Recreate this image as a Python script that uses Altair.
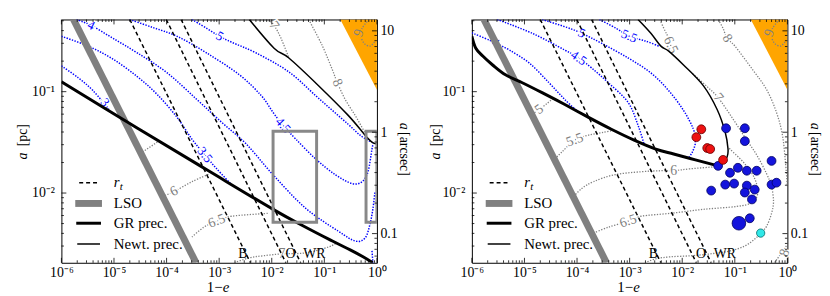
import altair as alt
import pandas as pd

# ---------------- geometry of the axes (log10 units) ----------------
LOG_X_MIN, LOG_X_MAX = -6.0, 0.0          # 1-e
LOG_A_MIN, LOG_A_MAX = -2.688, -0.288     # a [pc]
PC_PER_ARCSEC = 0.0398
W, H = 319, 246

SERIF = "Liberation Serif"
BLUE = "#0000ff"
GRAY = "#808080"
ORANGE = "#ffa500"

# ---------------- data: (log10(1-e), log10(a/pc)) ----------------
LSO = [(-5.77, -0.288), (-3.44, -2.688)]
RT_B = [(-4.70, -0.288), (-2.405, -2.688)]
RT_O = [(-4.006, -0.288), (-1.731, -2.688)]
RT_WR = [(-3.724, -0.288), (-1.449, -2.688)]
STAR_LABELS = [("B", -2.55, -2.60), ("O", -1.645, -2.60), ("WR", -1.19, -2.60)]
ORANGE_X = [-0.696, 0.0]
ORANGE_LO = [-0.288, -0.980]
G9 = [(-0.151, -0.288), (-0.283, -0.376), (-0.302, -0.454), (-0.245, -0.522),
      (-0.132, -0.551), (-0.037, -0.502)]

# left panel
L_GR = [(-6.0, -0.902), (-4.552, -1.361), (-3.235, -1.771), (-1.975, -2.161),
        (-1.354, -2.337), (-0.847, -2.473), (-0.508, -2.561), (-0.264, -2.629), (-0.08, -2.688)]
L_NEWT = [(-2.427, -0.288), (-1.956, -0.571), (-1.674, -0.668), (-1.110, -0.941),
          (-0.546, -1.234), (-0.226, -1.429), (-0.094, -1.498), (0.0, -1.517)]
L_B3 = [(-6.0, -0.746), (-5.68, -0.863), (-5.398, -0.990), (-5.097, -1.176)]
L_B35 = [(-6.0, -0.454), (-5.492, -0.551), (-5.022, -0.678), (-4.552, -0.854), (-4.176, -1.029),
         (-3.800, -1.254), (-3.518, -1.468), (-3.273, -1.624), (-3.047, -1.761), (-2.765, -1.917)]
L_B35B = [(-0.094, -2.571), (-0.075, -2.688)]
L_B4 = [(-5.718, -0.288), (-5.436, -0.346), (-5.022, -0.473), (-4.552, -0.619), (-3.988, -0.815),
        (-3.423, -1.078), (-2.953, -1.302), (-2.484, -1.517), (-1.975, -1.820), (-1.354, -2.151),
        (-0.734, -2.376), (-0.414, -2.473), (-0.226, -2.444), (-0.132, -2.307), (-0.075, -2.151),
        (-0.037, -1.985)]
L_B45 = [(-4.702, -0.288), (-4.270, -0.366), (-3.800, -0.454), (-3.235, -0.619), (-2.615, -0.834),
         (-2.200, -1.039), (-1.975, -1.205), (-1.787, -1.332), (-1.543, -1.468), (-1.166, -1.663),
         (-0.790, -1.820), (-0.471, -1.907), (-0.283, -1.888), (-0.170, -1.790), (-0.094, -1.566),
         (-0.07, -1.51)]
L_B5 = [(-3.518, -0.288), (-3.235, -0.376), (-2.991, -0.454), (-2.765, -0.512), (-2.295, -0.619),
        (-1.674, -0.805), (-1.166, -1.039), (-0.847, -1.185), (-0.546, -1.322), (-0.320, -1.429),
        (-0.10, -1.50)]
L_BLUE_LABELS = [("3", -5.172, -1.107, 50), ("3.5", -3.273, -1.624, 52), ("4", -5.436, -0.346, 27),
                 ("4.5", -1.787, -1.332, 48), ("5", -2.991, -0.454, 28)]
L_G55 = [(-4.458, -1.595), (-4.119, -1.478)]
L_G6 = [(-4.082, -2.034), (-3.856, -1.985), (-3.518, -1.888), (-3.179, -1.810)]
L_G65 = [(-3.518, -2.434), (-3.292, -2.337), (-3.047, -2.278), (-2.765, -2.229), (-2.050, -2.200)]
L_G7LO = [(-2.709, -2.688), (-2.427, -2.639), (-2.163, -2.619), (-1.806, -2.600), (-1.354, -2.590),
          (-0.918, -2.532), (-0.77, -2.49)]
L_G7UP = [(-2.069, -0.288), (-1.956, -0.346), (-1.824, -0.473), (-1.674, -0.668)]
L_G8 = [(-1.298, -0.288), (-1.035, -0.551), (-0.847, -0.785), (-0.753, -0.912), (-0.602, -1.078),
        (-0.414, -1.234), (-0.264, -1.371), (-0.226, -1.410)]
L_GRAY_LABELS = [("6", -3.856, -1.985, 333), ("6.5", -3.047, -2.278, 340), ("7", -1.806, -2.600, 0),
                 ("7", -1.956, -0.346, 56), ("8", -0.753, -0.912, 66)]
L_RECTS = [(-1.975, -1.147, -1.390, -2.288), (-0.207, 0.0, -1.390, -2.288)]

# right panel
R_GR = [(-6.0, -0.454), (-5.925, -0.571), (-5.793, -0.649), (-5.605, -0.737), (-5.361, -0.834),
        (-5.041, -0.912), (-4.665, -1.010), (-4.232, -1.127), (-3.781, -1.254), (-3.348, -1.371),
        (-2.915, -1.478), (-2.502, -1.566), (-2.163, -1.615), (-1.749, -1.673), (-1.317, -1.732)]
R_NEWT = [(-2.840, -0.288), (-2.596, -0.424), (-2.405, -0.551), (-2.257, -0.600), (-1.975, -0.737),
          (-1.599, -0.941), (-1.336, -1.176), (-1.182, -1.400), (-1.129, -1.566), (-1.147, -1.644),
          (-1.241, -1.712), (-1.317, -1.732)]
R_B4 = [(-6.0, -0.42), (-5.661, -0.493), (-5.549, -0.522), (-5.285, -0.590), (-4.909, -0.717),
        (-4.533, -0.912), (-4.232, -1.078), (-3.969, -1.205)]
R_B45 = [(-5.52, -0.288), (-4.853, -0.424), (-4.232, -0.590), (-3.969, -0.668), (-3.724, -0.766),
         (-3.404, -0.912), (-3.028, -1.107), (-2.840, -1.332), (-2.73, -1.51)]
R_B5 = [(-4.665, -0.288), (-4.195, -0.366), (-3.912, -0.424), (-3.536, -0.522), (-3.028, -0.668),
        (-2.596, -0.815), (-2.257, -0.990), (-1.975, -1.185), (-1.787, -1.371), (-1.749, -1.498),
        (-1.806, -1.595), (-1.881, -1.654)]
R_B55 = [(-3.574, -0.288), (-3.254, -0.376), (-3.009, -0.454), (-2.690, -0.502), (-2.445, -0.551)]
R_BLUE_LABELS = [("4", -5.549, -0.522, 27), ("4.5", -3.969, -0.668, 34), ("5", -3.912, -0.424, 25),
                 ("5.5", -3.009, -0.454, 23)]
R_G5 = [(-4.853, -1.224), (-4.721, -1.176), (-4.571, -1.117), (-4.458, -1.068)]
R_G55 = [(-4.420, -1.663), (-4.288, -1.595), (-4.044, -1.478), (-3.781, -1.429), (-3.480, -1.400),
         (-3.292, -1.380)]
R_G6 = [(-4.063, -2.034), (-3.912, -1.956), (-3.687, -1.888), (-3.292, -1.820), (-2.784, -1.790),
        (-2.405, -1.780), (-2.163, -1.780), (-1.844, -1.761), (-1.373, -1.741)]
R_G65 = [(-3.687, -2.395), (-3.404, -2.337), (-3.028, -2.278), (-2.784, -2.229), (-2.220, -2.200),
         (-1.599, -2.161), (-0.960, -2.132), (-0.677, -2.093), (-0.565, -2.005), (-0.621, -1.858),
         (-0.809, -1.712), (-1.035, -1.595), (-1.110, -1.556)]
R_G65UP = [(-2.427, -0.288), (-2.332, -0.395), (-2.276, -0.454), (-2.220, -0.541), (-2.163, -0.649)]
R_G7 = [(-2.709, -2.688), (-2.502, -2.649), (-2.220, -2.629), (-1.844, -2.619), (-1.468, -2.600),
        (-1.091, -2.571), (-0.809, -2.522), (-0.621, -2.454), (-0.508, -2.395), (-0.395, -2.327),
        (-0.301, -2.200), (-0.264, -2.083), (-0.301, -1.937), (-0.395, -1.810), (-0.584, -1.624),
        (-0.809, -1.449), (-1.054, -1.254), (-1.317, -1.059), (-1.505, -0.961), (-1.712, -0.863),
        (-1.806, -0.824)]
R_G8 = [(-1.317, -0.288), (-1.223, -0.376), (-1.147, -0.473), (-0.997, -0.551), (-0.658, -0.785),
        (-0.395, -0.980), (-0.207, -1.205), (-0.094, -1.429), (-0.037, -1.693), (0.0, -1.937)]
R_G8LO = [(-0.245, -2.688), (-0.019, -2.522)]
R_GRAY_LABELS = [("5", -4.721, -1.176, 324), ("5.5", -4.044, -1.478, 340), ("6", -2.163, -1.780, 0),
                 ("6.5", -3.028, -2.278, 342), ("6.5", -2.220, -0.541, 65), ("7", -1.317, -1.059, 52),
                 ("8", -1.147, -0.473, 58), ("8", -0.05, -2.59, 290)]
NINE_LABEL = [("9", -0.34, -0.42, 290)]

RED_X = [-1.637, -1.731, -1.524, -1.468, -1.223]
RED_A = [-1.371, -1.449, -1.556, -1.566, -1.673]
BLUE_X = [-1.166, -0.809, -0.809, -0.301, -1.317, -1.091, -0.941, -0.771, -0.584, -1.182,
          -1.013, -0.771, -0.621, -0.809, -1.449, -0.674, -0.301, -0.207, -0.715]
BLUE_A = [-1.361, -1.361, -1.488, -1.683, -1.732, -1.800, -1.751, -1.780, -1.780, -1.917,
          -1.907, -1.927, -1.966, -1.995, -1.976, -2.063, -1.917, -1.898, -2.249]
BIG_X, BIG_A = [-0.922], [-2.298]
CYAN_X, CYAN_A = [-0.508], [-2.395]

# ---------------- scales / axes ----------------
A_MIN, A_MAX = 10 ** LOG_A_MIN, 10 ** LOG_A_MAX
S_MIN, S_MAX = A_MIN / PC_PER_ARCSEC, A_MAX / PC_PER_ARCSEC
X_MAJOR = [10.0 ** p for p in range(-6, 1)]
X_MINOR = [k * 10.0 ** p for p in range(-6, 0) for k in range(2, 10)]
A_MAJOR = [0.01, 0.1]
A_MINOR = [k * 10.0 ** p for p in (-3, -2, -1) for k in range(2, 10) if A_MIN < k * 10.0 ** p < A_MAX]
S_MAJOR = [0.1, 1.0, 10.0]
S_MINOR = [k * 10.0 ** p for p in (-2, -1, 0, 1) for k in range(2, 10) if S_MIN < k * 10.0 ** p < S_MAX]

XS = alt.Scale(type="log", domain=[10 ** LOG_X_MIN, 10 ** LOG_X_MAX], nice=False)
YS = alt.Scale(type="log", domain=[A_MIN, A_MAX], nice=False)
SS = alt.Scale(type="log", domain=[S_MIN, S_MAX], nice=False)

XLAB = ("['10\u207b\u2076','10\u207b\u2075','10\u207b\u2074','10\u207b\u00b3','10\u207b\u00b2',"
        "'10\u207b\u00b9','10\u2070'][round(log(datum.value)/LN10)+6]")
XAX = alt.Axis(values=X_MAJOR, labelExpr=XLAB, ticks=False, domain=False, grid=False, title=None,
               labelFont=SERIF, labelFontSize=14, labelPadding=3, labelColor="black", labelFlush=False)
YAX = alt.Axis(values=A_MAJOR, labelExpr="datum.value < 0.05 ? '10\u207b\u00b2' : '10\u207b\u00b9'",
               ticks=False, domain=False, grid=False, title=None, labelFont=SERIF, labelFontSize=14,
               labelPadding=7, labelColor="black", labelFlush=False)
SAX = alt.Axis(orient="right", values=S_MAJOR,
               labelExpr="datum.value < 0.5 ? '0.1' : (datum.value < 5 ? '1' : '10')",
               ticks=False, domain=False, grid=False, title=None, labelFont=SERIF, labelFontSize=14,
               labelPadding=3, labelColor="black", labelFlush=False)

ONE = pd.DataFrame({"k": [0]})


def XY():
    return {"x": alt.X("x:Q", scale=XS, axis=XAX), "y": alt.Y("a:Q", scale=YS, axis=YAX)}


def curves_df(curves):
    rows = []
    for name, pts in curves.items():
        for i, (lx, la) in enumerate(pts):
            rows.append({"curve": name, "i": i, "x": 10.0 ** lx, "a": 10.0 ** la})
    return pd.DataFrame(rows)


def line_layer(curves, color, width, dash=None, interp="cardinal"):
    kw = dict(color=color, strokeWidth=width, clip=True, interpolate=interp)
    if dash:
        kw["strokeDash"] = dash
    return alt.Chart(curves_df(curves)).mark_line(**kw).encode(**XY(), detail="curve:N", order="i:Q")


def label_layers(rows, color, size, halo="white"):
    df = pd.DataFrame([{"t": t, "x": 10.0 ** lx, "a": 10.0 ** la, "ang": ang} for t, lx, la, ang in rows])
    enc = dict(**XY(), text="t:N", angle=alt.Angle("ang:Q", scale=None))
    h = alt.Chart(df).mark_text(font=SERIF, fontSize=size, fill=halo, stroke=halo, strokeWidth=3,
                                align="center", baseline="middle").encode(**enc)
    t = alt.Chart(df).mark_text(font=SERIF, fontSize=size, color=color,
                                align="center", baseline="middle").encode(**enc)
    return [h, t]


def star_labels():
    df = pd.DataFrame([{"t": t, "x": 10.0 ** lx, "a": 10.0 ** la} for t, lx, la in STAR_LABELS])
    return alt.Chart(df).mark_text(font=SERIF, fontSize=14, color="black", align="center",
                                   baseline="middle").encode(**XY(), text="t:N")


def pts_layer(xs, as_, size, fill, edge):
    df = pd.DataFrame({"x": [10.0 ** v for v in xs], "a": [10.0 ** v for v in as_]})
    return alt.Chart(df).mark_circle(size=size, color=fill, stroke=edge, strokeWidth=0.8,
                                     opacity=1, clip=True).encode(**XY())


def ptext(txt, x, y, size=14, angle=None, italic=False, align="center"):
    kw = dict(text=txt, font=SERIF, fontSize=size, align=align, baseline="middle", color="black")
    if angle is not None:
        kw["angle"] = angle
    if italic:
        kw["fontStyle"] = "italic"
    return alt.Chart(ONE).mark_text(**kw).encode(x=alt.value(x), y=alt.value(y))


def prule(x1, x2, y, color, width, dash=None):
    kw = dict(color=color, strokeWidth=width)
    if dash:
        kw["strokeDash"] = dash
    return alt.Chart(ONE).mark_rule(**kw).encode(x=alt.value(x1), x2=alt.value(x2), y=alt.value(y))


def orange_layer():
    df = pd.DataFrame({"x": [10.0 ** v for v in ORANGE_X], "lo": [10.0 ** v for v in ORANGE_LO],
                       "hi": [A_MAX, A_MAX]})
    return alt.Chart(df).mark_area(color=ORANGE, clip=True).encode(
        x=alt.X("x:Q", scale=XS, axis=XAX), y=alt.Y("lo:Q", scale=YS, axis=YAX), y2="hi:Q")


def rect_layer(rects):
    df = pd.DataFrame([{"x": 10 ** a, "x2": 10 ** b, "a": 10 ** c, "a2": 10 ** d} for a, b, c, d in rects])
    return alt.Chart(df).mark_rect(fillOpacity=0, stroke="#888888", strokeWidth=3, clip=True).encode(
        x=alt.X("x:Q", scale=XS, axis=XAX), x2="x2:Q", y=alt.Y("a:Q", scale=YS, axis=YAX), y2="a2:Q")


def tick_layers():
    out = []
    for vals, ln in ((X_MAJOR, 5), (X_MINOR, 2.5)):
        df = pd.DataFrame({"x": vals})
        out.append(alt.Chart(df).mark_rule(color="black", strokeWidth=0.8).encode(
            x=alt.X("x:Q", scale=XS, axis=XAX), y=alt.value(H), y2=alt.value(H - ln)))
        out.append(alt.Chart(df).mark_rule(color="black", strokeWidth=0.8).encode(
            x=alt.X("x:Q", scale=XS, axis=XAX), y=alt.value(0), y2=alt.value(ln)))
    for vals, ln in ((A_MAJOR, 5), (A_MINOR, 2.5)):
        df = pd.DataFrame({"a": vals})
        out.append(alt.Chart(df).mark_rule(color="black", strokeWidth=0.8).encode(
            y=alt.Y("a:Q", scale=YS, axis=YAX), x=alt.value(0), x2=alt.value(ln)))
    return out


def arcsec_layer():
    out = []
    for vals, ln in ((S_MAJOR, 5), (S_MINOR, 2.5)):
        df = pd.DataFrame({"s": vals})
        out.append(alt.Chart(df).mark_rule(color="black", strokeWidth=0.8).encode(
            y=alt.Y("s:Q", scale=SS, axis=SAX), x=alt.value(W), x2=alt.value(W - ln)))
    return alt.layer(*out)


def legend_layers():
    return [
        prule(18, 39, 165, "black", 1.5, [4, 3]),
        prule(14, 41, 186, "#808080", 7),
        prule(15, 40, 206, "black", 3),
        prule(16, 39, 227, "black", 1.5),
        ptext("r", 53, 164, size=15, italic=True, align="left"),
        ptext("t", 59, 169, size=11, italic=True, align="left"),
        ptext("LSO", 53, 186, size=15, align="left"),
        ptext("GR prec.", 53, 206, size=15, align="left"),
        ptext("Newt. prec.", 53, 227, size=15, align="left"),
    ]


def title_layers(left_x):
    return [
        ptext("a", left_x, 138, size=14, angle=270, italic=True),
        ptext("[pc]", left_x, 117, size=14, angle=270),
        ptext("a", W + 27.5, 108, size=14, angle=90, italic=True),
        ptext("[arcsec]", W + 27.5, 136, size=14, angle=90),
        ptext("1\u2212", 155, 271, size=15),
        ptext("e", 166.5, 271, size=15, italic=True),
    ]


def panel(blue, gray, blue_labels, gray_labels, gr, newt, rects, left_title_x, points):
    layers = [orange_layer(),
              line_layer(gray, GRAY, 1.3, [1.3, 1.5]),
              line_layer(blue, BLUE, 1.5, [1.4, 1.4])]
    layers += label_layers(gray_labels, GRAY, 14)
    layers += label_layers(NINE_LABEL, GRAY, 14, halo=ORANGE)
    layers += label_layers(blue_labels, BLUE, 13)
    layers += [line_layer({"B": RT_B, "O": RT_O, "WR": RT_WR}, "black", 1.5, [4, 3], "linear"),
               line_layer({"lso": LSO}, "#808080", 7, None, "linear"),
               line_layer({"gr": gr}, "black", 3),
               line_layer({"newt": newt}, "black", 1.5)]
    if rects:
        layers.append(rect_layer(rects))
    layers.append(star_labels())
    if points:
        layers += [pts_layer(BLUE_X, BLUE_A, 80, "#1414dc", "#000060"),
                   pts_layer(BIG_X, BIG_A, 190, "#1414dc", "#000060"),
                   pts_layer(RED_X, RED_A, 80, "#ee1111", "#600000"),
                   pts_layer(CYAN_X, CYAN_A, 70, "#30e8e8", "#006a6a")]
    layers += legend_layers()
    layers += title_layers(left_title_x)
    layers += tick_layers()
    main = alt.layer(*layers)
    return alt.layer(main, arcsec_layer()).resolve_scale(y="independent").properties(width=W, height=H)


left = panel({"3": L_B3, "3.5": L_B35, "3.5b": L_B35B, "4": L_B4, "4.5": L_B45, "5": L_B5},
             {"5.5": L_G55, "6": L_G6, "6.5": L_G65, "7lo": L_G7LO, "7up": L_G7UP, "8": L_G8, "9": G9},
             L_BLUE_LABELS, L_GRAY_LABELS, L_GR, L_NEWT, L_RECTS, -38.5, False)
right = panel({"4": R_B4, "4.5": R_B45, "5": R_B5, "5.5": R_B55},
              {"5": R_G5, "5.5": R_G55, "6": R_G6, "6.5": R_G65, "6.5u": R_G65UP, "7": R_G7,
               "8": R_G8, "8lo": R_G8LO, "9": G9},
              R_BLUE_LABELS, R_GRAY_LABELS, R_GR, R_NEWT, [], -36.5, True)

chart = (alt.hconcat(left, right, spacing=17)
         .properties(padding={"left": 8, "top": 8, "right": 0, "bottom": 0}, background="white")
         .configure_view(stroke="black", strokeWidth=1))

chart.save("out.html", embed_options={"renderer": "svg", "actions": False})
